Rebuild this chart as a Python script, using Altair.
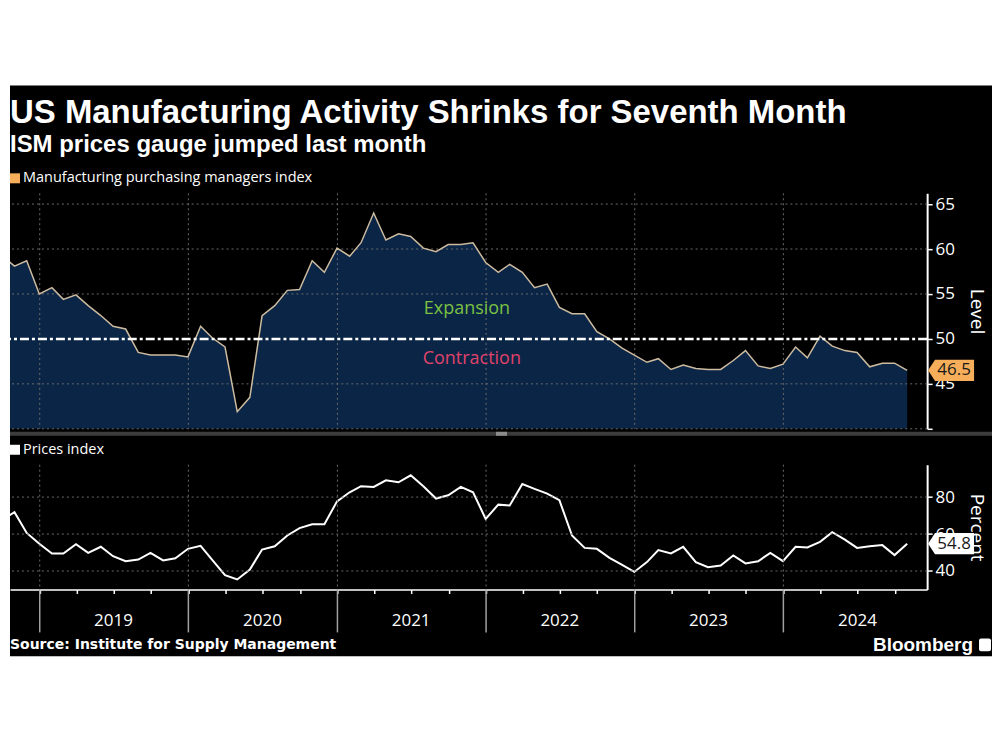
import altair as alt
import pandas as pd

# ---------------- data ----------------
start_month = "2018-09"
pmi = [59.3, 58.1, 58.7, 55.0,
       55.7, 54.4, 54.9, 53.7, 52.6, 51.4, 51.1, 48.5, 48.2, 48.2, 48.2, 48.0,
       51.4, 50.1, 49.1, 41.9, 43.5, 52.6, 53.7, 55.4, 55.5, 58.7, 57.4, 60.1,
       59.2, 60.7, 64.0, 61.0, 61.7, 61.4, 60.1, 59.7, 60.5, 60.5, 60.7, 58.5,
       57.4, 58.3, 57.4, 55.7, 56.1, 53.5, 52.8, 52.8, 50.8, 50.0, 49.0, 48.2,
       47.4, 47.8, 46.6, 47.1, 46.7, 46.6, 46.6, 47.6, 48.7, 47.0, 46.7, 47.2,
       49.1, 47.9, 50.3, 49.2, 48.7, 48.5, 46.9, 47.3, 47.3, 46.5]
prices = [67.5, 71.8, 60.6, 54.7,
          49.5, 49.5, 54.5, 49.8, 53.1, 48.0, 45.3, 46.2, 49.8, 45.7, 46.9, 52.0,
          53.6, 45.9, 37.7, 35.4, 40.8, 51.6, 53.4, 59.2, 63.2, 65.3, 65.3, 77.7,
          82.6, 85.9, 85.5, 89.1, 88.0, 91.8, 85.9, 79.2, 81.0, 85.5, 82.6, 68.2,
          75.9, 75.4, 87.1, 84.4, 81.9, 78.3, 59.2, 52.5, 52.0, 47.1, 43.5, 39.5,
          44.8, 51.3, 49.5, 53.1, 44.8, 42.1, 43.0, 48.4, 44.1, 45.3, 49.8, 45.3,
          53.1, 52.7, 55.8, 61.0, 57.0, 52.5, 53.4, 54.0, 48.6, 54.8]
years = [2019, 2020, 2021, 2022, 2023, 2024]
top_grid = [40, 45, 55, 60, 65]
bottom_grid = [40, 60, 80]
top_ticks = [40, 42.5, 45, 47.5, 50, 52.5, 55, 57.5, 60, 62.5, 65]
bottom_ticks = [40, 50, 60, 70, 80, 90]
zones = ["Expansion", "Contraction"]
zone_dates = ["2021-11-15", "2021-11-27"]
zone_values = [53.3, 47.8]
zone_colors = ["#7cc142", "#e0436a"]

title = "US Manufacturing Activity Shrinks for Seventh Month"
subtitle = "ISM prices gauge jumped last month"
legend1 = "Manufacturing purchasing managers index"
legend2 = "Prices index"
source = "Source: Institute for Supply Management"

months = pd.period_range(start_month, periods=len(pmi), freq="M").to_timestamp(how="end").normalize()
df = pd.DataFrame({"date": months, "pmi": pmi, "prices": prices})
ydf = pd.DataFrame({"d": [f"{y}-01-01" for y in years],
                    "mid": [f"{y}-07-01" for y in years],
                    "label": [str(y) for y in years]})
zdf = pd.DataFrame({"date": zone_dates, "v": zone_values, "t": zones, "c": zone_colors})

W = 919
HH = 72
H1 = 236
H2 = 125
FULLW = 984
LABEL_FONT = "Open Sans"

xs = alt.Scale(domain=[alt.DateTime(year=2018, month=10, date=20),
                       alt.DateTime(year=2024, month=12, date=19)])
ytop = alt.Scale(domain=[40, 66.2], nice=False, zero=False)
ybot = alt.Scale(domain=[30, 97.5], nice=False, zero=False)


def one(**kw):
    return alt.Chart(pd.DataFrame({k: [v] for k, v in kw.items()}))


def yaxis(values, expr, title):
    return alt.Axis(orient="right", values=values, labelExpr=expr, grid=False,
                    domainColor="white", domainWidth=2, tickColor="white",
                    tickSize=5, tickWidth=1.5, labelColor="white",
                    labelFont=LABEL_FONT, labelFontSize=17, labelPadding=3,
                    title=title, titleColor="white", titleFont=LABEL_FONT,
                    titleFontSize=19, titleFontWeight="normal", titlePadding=12)


# ---------------- header panel (also paints the black backdrop) ----------------
black_box = one(a=0).mark_rect(color="black").encode(
    x=alt.value(0), x2=alt.value(FULLW), y=alt.value(0), y2=alt.value(572))
title_t = one(t=title).mark_text(font="Liberation Sans", fontWeight="bold", fontSize=33,
                                 color="white", align="left", baseline="alphabetic").encode(
    x=alt.value(0), y=alt.value(38), text="t:N")
sub_t = one(t=subtitle).mark_text(font="Liberation Sans", fontWeight="bold", fontSize=24,
                                  color="white", align="left", baseline="alphabetic").encode(
    x=alt.value(0), y=alt.value(67), text="t:N")
leg1_sq = one(a=0).mark_rect(color="#f6ae5a").encode(
    x=alt.value(0), x2=alt.value(10), y=alt.value(88), y2=alt.value(98))
leg1_t = one(t=legend1).mark_text(font=LABEL_FONT, fontSize=14.5, color="white",
                                  align="left", baseline="middle").encode(
    x=alt.value(13), y=alt.value(93), text="t:N")
header = alt.layer(black_box, title_t, sub_t, leg1_sq, leg1_t).properties(width=W, height=HH)

# ---------------- top panel ----------------
area = alt.Chart(df).mark_area(color="#0b2546", clip=True).encode(
    x=alt.X("date:T", scale=xs, axis=None),
    y=alt.Y("pmi:Q", scale=ytop,
            axis=yaxis(top_ticks, "datum.value % 5 == 0 && datum.value > 40 ? datum.label : ''", "Level")),
    y2=alt.datum(40),
)
hgrid1 = alt.Chart(pd.DataFrame({"v": top_grid})).mark_rule(
    color="#6a6a6a", strokeDash=[2, 3], strokeWidth=1).encode(
    y=alt.Y("v:Q", scale=ytop, title="Level"))
vgrid1 = alt.Chart(ydf).mark_rule(color="#6a6a6a", strokeDash=[2, 3], strokeWidth=1).encode(
    x=alt.X("d:T", scale=xs, axis=None))
line1 = alt.Chart(df).mark_line(color="#cdbb9f", strokeWidth=1.5, clip=True).encode(
    x=alt.X("date:T", scale=xs, axis=None),
    y=alt.Y("pmi:Q", scale=ytop, title="Level"))
fifty = one(a=0).mark_rule(color="white", strokeWidth=2.5, strokeDash=[9, 3, 3, 3]).encode(
    y=alt.YDatum(50, scale=ytop))
zones_txt = alt.Chart(zdf).mark_text(font=LABEL_FONT, fontSize=18, align="center", baseline="middle").encode(
    x=alt.X("date:T", scale=xs, axis=None),
    y=alt.Y("v:Q", scale=ytop, title="Level"),
    text="t:N", color=alt.Color("c:N", scale=None))
callout_path = "M -1 0 L -0.7 -0.46 L 1 -0.46 L 1 0.46 L -0.7 0.46 Z"
call1 = one(v=pmi[-1]).mark_point(shape=callout_path, filled=True, size=2116,
                                  color="#f6ae5a", opacity=1).encode(
    x=alt.value(943), y=alt.Y("v:Q", scale=ytop, title="Level"))
call1t = one(v=pmi[-1], t=f"{pmi[-1]:.1f}").mark_text(
    font=LABEL_FONT, fontSize=17, color="#1a1a1a", align="center", baseline="middle").encode(
    x=alt.value(946), y=alt.Y("v:Q", scale=ytop, title="Level"), text="t:N")

top = alt.layer(area, hgrid1, vgrid1, line1, fifty, zones_txt, call1, call1t
                ).properties(width=W, height=H1)

# ---------------- bottom panel ----------------
line2 = alt.Chart(df).mark_line(color="white", strokeWidth=2, clip=True).encode(
    x=alt.X("date:T", scale=xs,
            axis=alt.Axis(labels=False, tickCount={"interval": "month", "step": 3},
                          tickSize=4, tickColor="white", tickWidth=1.5,
                          domainColor="white", domainWidth=1.5, grid=False, title=None)),
    y=alt.Y("prices:Q", scale=ybot,
            axis=yaxis(bottom_ticks, "datum.value % 20 == 0 ? datum.label : ''", "Percent")))
hgrid2 = alt.Chart(pd.DataFrame({"v": bottom_grid})).mark_rule(
    color="#6a6a6a", strokeDash=[2, 3], strokeWidth=1).encode(
    y=alt.Y("v:Q", scale=ybot, title="Percent"))
vgrid2 = alt.Chart(ydf).mark_rule(color="#6a6a6a", strokeDash=[2, 3], strokeWidth=1).encode(
    x=alt.X("d:T", scale=xs, title=None))
ysep = alt.Chart(ydf).mark_rule(color="#a0a0a0", strokeWidth=1.5).encode(
    x=alt.X("d:T", scale=xs, title=None), y=alt.value(H2), y2=alt.value(H2 + 43))
ylab = alt.Chart(ydf).mark_text(font=LABEL_FONT, fontSize=17, color="white",
                                align="center", baseline="middle").encode(
    x=alt.X("mid:T", scale=xs, title=None), y=alt.value(H2 + 32), text="label:N")
call2 = one(v=prices[-1]).mark_point(shape=callout_path, filled=True, size=2116,
                                     color="white", opacity=1).encode(
    x=alt.value(943), y=alt.Y("v:Q", scale=ybot, title="Percent"))
call2t = one(v=prices[-1], t=f"{prices[-1]:.1f}").mark_text(
    font=LABEL_FONT, fontSize=17, color="#1a1a1a", align="center", baseline="middle").encode(
    x=alt.value(946), y=alt.Y("v:Q", scale=ybot, title="Percent"), text="t:N")
sep = one(a=0).mark_rect(color="#3c3c3c").encode(
    x=alt.value(0), x2=alt.value(FULLW), y=alt.value(-33), y2=alt.value(-29))
handle = one(a=0).mark_rect(color="#8c8c8c").encode(
    x=alt.value(487), x2=alt.value(498), y=alt.value(-33), y2=alt.value(-29))
leg2_sq = one(a=0).mark_rect(color="white").encode(
    x=alt.value(0), x2=alt.value(10), y=alt.value(-20), y2=alt.value(-10))
leg2_t = one(t=legend2).mark_text(font=LABEL_FONT, fontSize=14.5, color="white",
                                  align="left", baseline="middle").encode(
    x=alt.value(13), y=alt.value(-15), text="t:N")
src_t = one(t=source).mark_text(font="DejaVu Sans", fontWeight="bold", fontSize=14,
                                color="white", align="left", baseline="middle").encode(
    x=alt.value(0), y=alt.value(H2 + 56), text="t:N")
bb_t = one(t="Bloomberg").mark_text(font="Liberation Sans", fontWeight="bold", fontSize=19,
                                    color="white", align="right", baseline="middle").encode(
    x=alt.value(965), y=alt.value(H2 + 56), text="t:N")
bb_icon = one(a=0).mark_rect(color="white", cornerRadius=2).encode(
    x=alt.value(971), x2=alt.value(983), y=alt.value(H2 + 49), y2=alt.value(H2 + 62))

bottom = alt.layer(line2, hgrid2, vgrid2, ysep, ylab, call2, call2t, sep, handle,
                   leg2_sq, leg2_t, src_t, bb_t, bb_icon).properties(width=W, height=H2)

chart = alt.vconcat(header, top, bottom, spacing=36, bounds="flush").properties(
    padding={"top": 77, "left": 0, "right": 0, "bottom": 0}, background="white"
).configure_view(stroke=None)

chart.save("out.html", embed_options={"renderer": "svg", "actions": False})
